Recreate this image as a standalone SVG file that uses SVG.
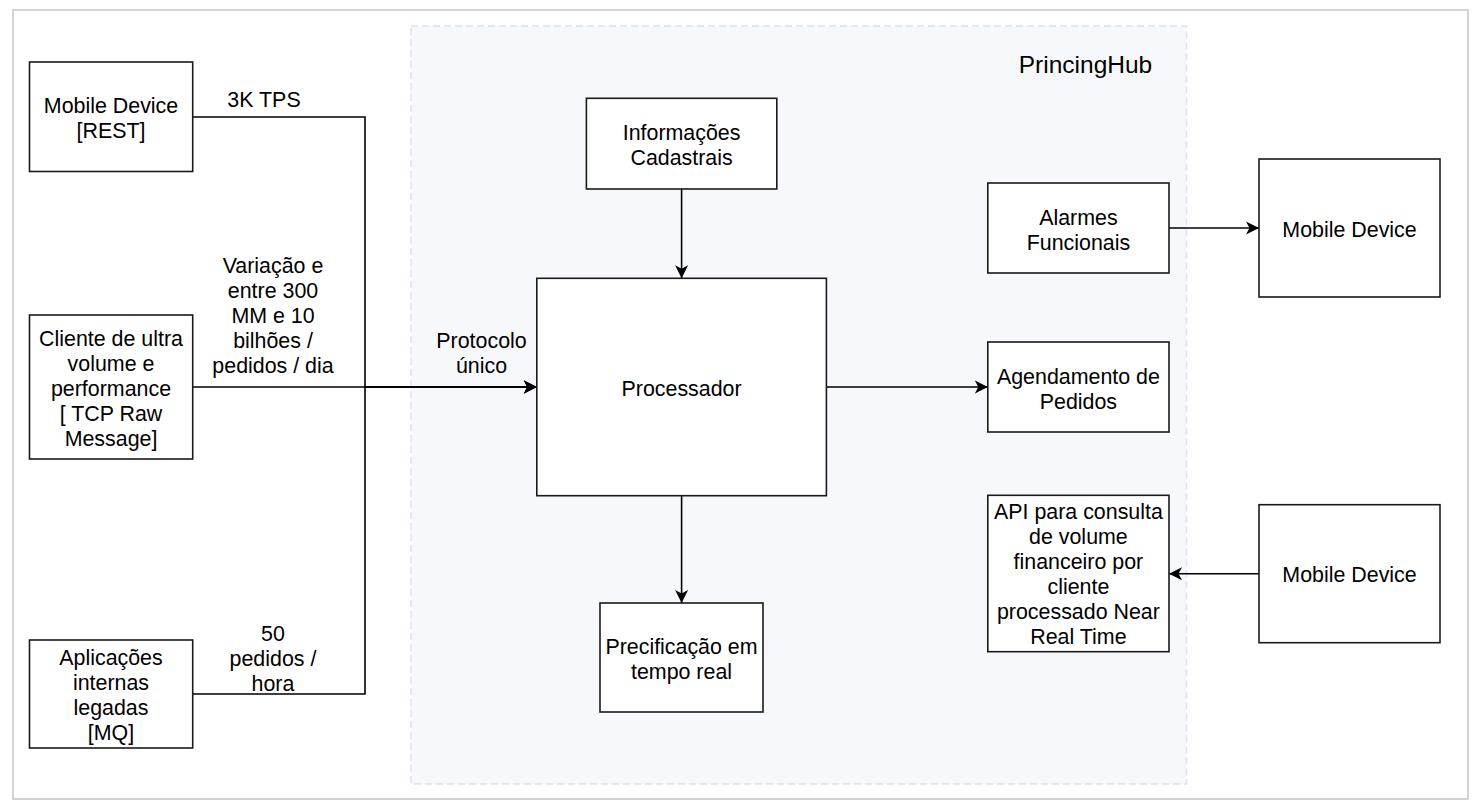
<svg xmlns="http://www.w3.org/2000/svg" width="1482" height="812" viewBox="0 0 1482 812">
  <defs>
    <marker id="arrow" markerUnits="userSpaceOnUse" markerWidth="16" markerHeight="16" refX="13" refY="7" orient="auto">
      <path d="M0,0.5 L13,7 L0,13.5 L3.5,7 Z" fill="#000" stroke="none"/>
    </marker>
  </defs>
  <style>
    .frame { fill: #ffffff; stroke: #d3d3d3; stroke-width: 2; }
    .group { fill: #f7f8fc; stroke: #dce2ee; stroke-width: 1.5; stroke-dasharray: 7 4; }
    .box { fill: #ffffff; stroke: #1a1a1a; stroke-width: 1.6; }
    .edge { fill: none; stroke: #000; stroke-width: 1.6; }
    .arr { marker-end: url(#arrow); }
    text { font-family: "Liberation Sans", Arial, Helvetica, sans-serif; font-size: 21.4px; fill: #000; text-anchor: middle; }
    .title { font-size: 24.5px; }
  </style>

  <rect class="frame" x="13" y="10" width="1455" height="789"/>

  <g id="PrincingHub">
    <rect class="group" x="411" y="26" width="775.5" height="758"/>
    <text class="title" x="1085.5" y="72.5">PrincingHub</text>
  </g>

  <g id="connectors">
    <path class="edge arr" d="M192.7,117 L365,117 L365,387 L536.8,387"/>
    <path class="edge arr" d="M192.7,694 L365,694 L365,387 L536.8,387"/>
    <path class="edge arr" d="M192.7,387 L536.8,387"/>
    <path class="edge arr" d="M681.6,189 L681.6,278.3"/>
    <path class="edge arr" d="M681.6,495.7 L681.6,603"/>
    <path class="edge arr" d="M826.4,387 L987.8,387"/>
    <path class="edge arr" d="M1169,228 L1259,228"/>
    <path class="edge arr" d="M1259,573.7 L1169,573.7"/>
    <g id="edge-labels">
      <text x="264" y="107">3K TPS</text>
      <text x="273" y="273">Variação e</text>
      <text x="273" y="298">entre 300</text>
      <text x="273" y="323">MM e 10</text>
      <text x="273" y="348">bilhões /</text>
      <text x="273" y="373">pedidos / dia</text>
      <text x="481.5" y="348">Protocolo</text>
      <text x="481.5" y="373">único</text>
      <text x="273" y="641">50</text>
      <text x="273" y="666">pedidos /</text>
      <text x="273" y="691">hora</text>
    </g>
  </g>

  <g id="mobile-rest">
    <rect class="box" x="29.5" y="62" width="163.2" height="109.5"/>
    <text x="111" y="113.2">Mobile Device</text>
    <text x="111" y="138.2">[REST]</text>
  </g>

  <g id="cliente-ultra">
    <rect class="box" x="29.5" y="315" width="163.2" height="144"/>
    <text x="111" y="345.7">Cliente de ultra</text>
    <text x="111" y="370.7">volume e</text>
    <text x="111" y="395.7">performance</text>
    <text x="111" y="420.7">[ TCP Raw</text>
    <text x="111" y="445.7">Message]</text>
  </g>

  <g id="aplicacoes-legadas">
    <rect class="box" x="29.5" y="640" width="163.2" height="108"/>
    <text x="111" y="665.2">Aplicações</text>
    <text x="111" y="690.2">internas</text>
    <text x="111" y="715.2">legadas</text>
    <text x="111" y="740.2">[MQ]</text>
  </g>

  <g id="informacoes-cadastrais">
    <rect class="box" x="586.4" y="98.3" width="190.4" height="90.7"/>
    <text x="681.6" y="139.9">Informações</text>
    <text x="681.6" y="164.9">Cadastrais</text>
  </g>

  <g id="processador">
    <rect class="box" x="536.8" y="278.3" width="289.6" height="217.4"/>
    <text x="681.6" y="395.7">Processador</text>
  </g>

  <g id="precificacao">
    <rect class="box" x="600" y="603" width="163" height="109"/>
    <text x="681.5" y="653.7">Precificação em</text>
    <text x="681.5" y="678.7">tempo real</text>
  </g>

  <g id="alarmes">
    <rect class="box" x="987.8" y="183" width="181.2" height="90"/>
    <text x="1078.4" y="224.8">Alarmes</text>
    <text x="1078.4" y="249.5">Funcionais</text>
  </g>

  <g id="agendamento">
    <rect class="box" x="987.8" y="342" width="181.2" height="90"/>
    <text x="1078.4" y="383.5">Agendamento de</text>
    <text x="1078.4" y="408.5">Pedidos</text>
  </g>

  <g id="api-consulta">
    <rect class="box" x="987.8" y="495.3" width="181.2" height="156.4"/>
    <text x="1078.4" y="519">API para consulta</text>
    <text x="1078.4" y="544">de volume</text>
    <text x="1078.4" y="569">financeiro por</text>
    <text x="1078.4" y="594">cliente</text>
    <text x="1078.4" y="619">processado Near</text>
    <text x="1078.4" y="644">Real Time</text>
  </g>

  <g id="mobile-device-1">
    <rect class="box" x="1259" y="159" width="181" height="138"/>
    <text x="1349.5" y="236.7">Mobile Device</text>
  </g>

  <g id="mobile-device-2">
    <rect class="box" x="1259" y="504.7" width="181" height="138"/>
    <text x="1349.5" y="582.2">Mobile Device</text>
  </g>
</svg>
